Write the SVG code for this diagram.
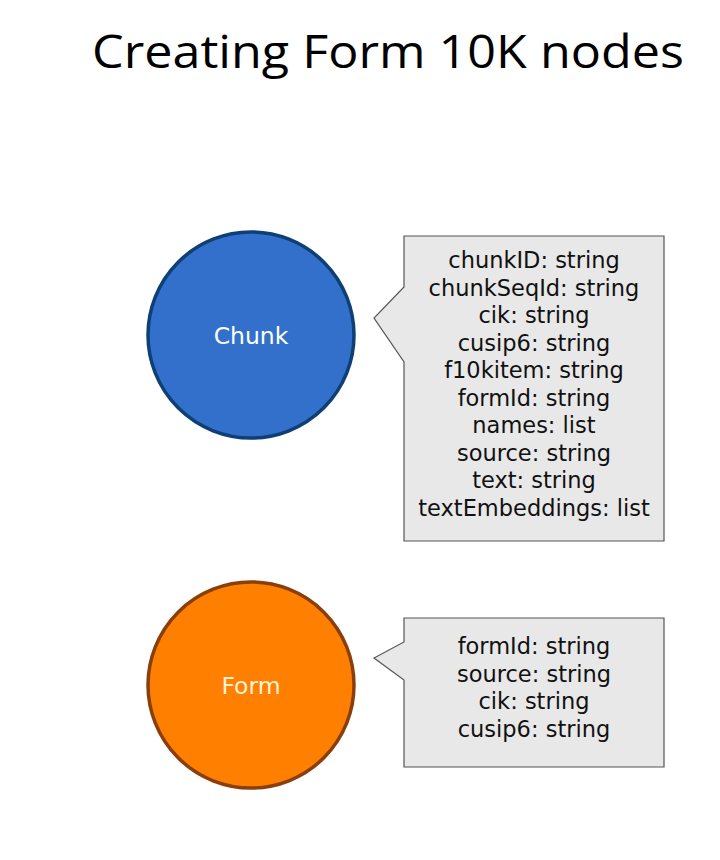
<svg xmlns="http://www.w3.org/2000/svg" width="720" height="860" viewBox="0 0 720 860">
<style>
.title{font-family:"Open Sans","Liberation Sans",sans-serif;font-size:45px;fill:#000;}
.lbl{font-family:"DejaVu Sans","Open Sans",sans-serif;font-size:23.5px;text-anchor:middle;dominant-baseline:central;}
.prop{font-family:"DejaVu Sans","Open Sans",sans-serif;font-size:22.5px;text-anchor:middle;fill:#111;dominant-baseline:central;}
.call{fill:#E8E8E8;stroke:#555;stroke-width:1.2;}
</style>
<rect width="720" height="860" fill="#fff"/>
<text class="title" x="388" y="68" text-anchor="middle" textLength="592" lengthAdjust="spacingAndGlyphs">Creating Form 10K nodes</text>
<g id="chunk">
<circle cx="251" cy="335" r="103" fill="#3370CC" stroke="#0E3F75" stroke-width="3.5"/>
<text class="lbl" x="251" y="336" fill="#fff">Chunk</text>
</g>
<g id="chunk-props">
<path class="call" d="M404 236 H664 V541 H404 V362 L374 318 L404 287 Z"/>
<text class="prop" x="534" y="260">chunkID: string</text>
<text class="prop" x="534" y="288">chunkSeqId: string</text>
<text class="prop" x="534" y="315">cik: string</text>
<text class="prop" x="534" y="343">cusip6: string</text>
<text class="prop" x="534" y="370">f10kitem: string</text>
<text class="prop" x="534" y="398">formId: string</text>
<text class="prop" x="534" y="425">names: list</text>
<text class="prop" x="534" y="453">source: string</text>
<text class="prop" x="534" y="480">text: string</text>
<text class="prop" x="534" y="508">textEmbeddings: list</text>
</g>
<g id="form">
<circle cx="251" cy="685" r="103" fill="#FF7F00" stroke="#8A3E0A" stroke-width="3.5"/>
<text class="lbl" x="251" y="686" fill="#FFF2D8">Form</text>
</g>
<g id="form-props">
<path class="call" d="M404 618 H664 V767 H404 V680 L374 658 L404 642 Z"/>
<text class="prop" x="534" y="646">formId: string</text>
<text class="prop" x="534" y="674">source: string</text>
<text class="prop" x="534" y="701">cik: string</text>
<text class="prop" x="534" y="729">cusip6: string</text>
</g>
<g id="connectors"></g>
</svg>
